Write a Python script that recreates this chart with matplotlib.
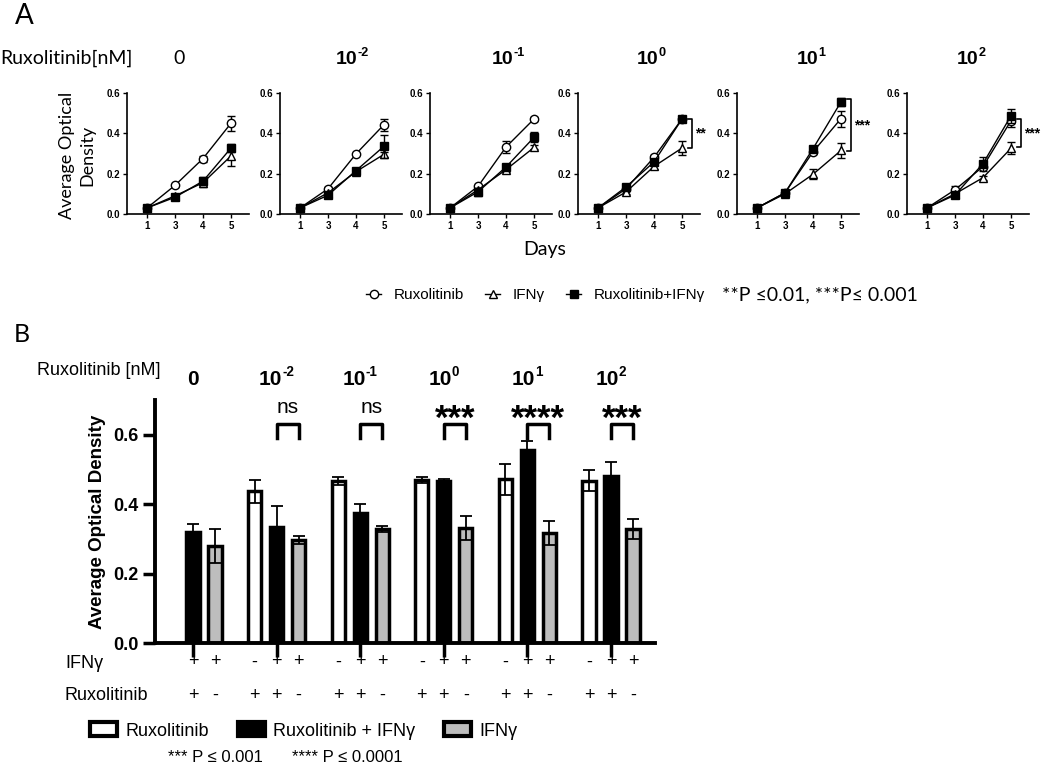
import numpy as np
import matplotlib
matplotlib.use('Agg')
import matplotlib.pyplot as plt
from matplotlib.lines import Line2D
from matplotlib.patches import Patch
from matplotlib.font_manager import FontProperties
import matplotlib.transforms as mtransforms

# ---- data: panel A (growth curves) ----
days = [1, 3, 4, 5]
conc_exp = [None, '-2', '-1', '0', '1', '2']   # Ruxolitinib concentration = 10^exp nM (None -> 0)

rux_a = [[0.03, 0.142, 0.275, 0.45],
         [0.03, 0.125, 0.298, 0.443],
         [0.03, 0.137, 0.332, 0.471],
         [0.03, 0.125, 0.281, 0.471],
         [0.03, 0.105, 0.308, 0.473],
         [0.03, 0.120, 0.235, 0.463]]
rux_a_err = [[0.005, 0.008, 0.015, 0.038],
             [0.005, 0.008, 0.006, 0.03],
             [0.005, 0.008, 0.03, 0.01],
             [0.005, 0.008, 0.01, 0.008],
             [0.005, 0.006, 0.01, 0.04],
             [0.005, 0.02, 0.01, 0.03]]
ifn_a = [[0.03, 0.09, 0.155, 0.288],
         [0.03, 0.105, 0.21, 0.296],
         [0.03, 0.12, 0.22, 0.33],
         [0.03, 0.109, 0.236, 0.327],
         [0.03, 0.10, 0.197, 0.315],
         [0.03, 0.10, 0.18, 0.326]]
ifn_a_err = [[0.005, 0.006, 0.02, 0.05],
             [0.005, 0.006, 0.01, 0.012],
             [0.005, 0.01, 0.01, 0.01],
             [0.005, 0.01, 0.015, 0.035],
             [0.005, 0.006, 0.025, 0.035],
             [0.005, 0.01, 0.01, 0.03]]
combo_a = [[0.03, 0.083, 0.163, 0.327],
           [0.03, 0.093, 0.215, 0.336],
           [0.03, 0.11, 0.233, 0.38],
           [0.03, 0.134, 0.258, 0.471],
           [0.03, 0.105, 0.324, 0.556],
           [0.03, 0.094, 0.25, 0.487]]
combo_a_err = [[0.005, 0.006, 0.02, 0.02],
               [0.005, 0.006, 0.008, 0.057],
               [0.005, 0.02, 0.01, 0.025],
               [0.005, 0.006, 0.01, 0.006],
               [0.005, 0.006, 0.015, 0.02],
               [0.005, 0.008, 0.035, 0.035]]
sig_a = {3: ('**', 0.471, 0.327), 4: ('***', 0.572, 0.31), 5: ('***', 0.471, 0.33)}

# ---- data: panel B (day 5 bars) ----
rux_b = [np.nan, 0.437, 0.467, 0.469, 0.471, 0.467]
rux_b_err = [np.nan, 0.033, 0.011, 0.009, 0.044, 0.030]
combo_b = [0.320, 0.335, 0.375, 0.467, 0.557, 0.481]
combo_b_err = [0.022, 0.059, 0.026, 0.005, 0.025, 0.040]
ifn_b = [0.279, 0.296, 0.329, 0.332, 0.317, 0.329]
ifn_b_err = [0.049, 0.011, 0.008, 0.034, 0.035, 0.028]
sig_b = ['', 'ns', 'ns', '***', '****', '***']
ifn_signs = [['', '+', '+']] + [['-', '+', '+']] * 5
rux_signs = [['', '+', '-']] + [['+', '+', '-']] * 5

# ---- fonts ----
plt.rcParams['font.family'] = ['Liberation Sans', 'DejaVu Sans']
calib = ['Lato', 'DejaVu Sans']

W, H = 1050, 768
def fx(px): return px / W
def fy(py): return 1 - py / H
def box(l, t, r, b): return [l / W, 1 - b / H, (r - l) / W, (b - t) / H]

fig = plt.figure(figsize=(10.5, 7.68), dpi=100)

# bold glyph widths (em) for Arial/Liberation bold
gw = {'0': 0.556, '1': 0.556, '2': 0.556, '-': 0.333}

def conc_label(x, y, exp, size, trans):
    # draws "0" or "10" with a raised exponent, centred on x
    if exp is None:
        fig.text(x, y, '0', fontsize=size, fontweight='bold', ha='center', va='baseline',
                 transform=trans)
        return
    es = 0.65 * size
    wb = 1.112 * size
    we = sum(gw[c] for c in exp) * es
    dx = -(wb + we) / 2
    t1 = mtransforms.offset_copy(trans, fig=fig, x=dx, y=0, units='points')
    t2 = mtransforms.offset_copy(trans, fig=fig, x=dx + wb, y=0.42 * size, units='points')
    fig.text(x, y, '10', fontsize=size, fontweight='bold', ha='left', va='baseline', transform=t1)
    fig.text(x, y, exp, fontsize=es, fontweight='bold', ha='left', va='baseline', transform=t2)

# ================= Panel A =================
a_pos0 = [147, 300, 450, 598, 757, 927]
a_lbl_x = [179, 352, 508, 651, 811, 971]
step = 28
for i in range(6):
    left = a_pos0[i] - 0.7 * step
    ax = fig.add_axes(box(left, 93, left + 4.35 * step, 214))
    x = np.arange(4)
    ax.errorbar(x, rux_a[i], yerr=rux_a_err[i], color='k', marker='o', mfc='white',
                ms=6, lw=1, elinewidth=1, capsize=3, zorder=3)
    ax.errorbar(x, ifn_a[i], yerr=ifn_a_err[i], color='k', marker='^', mfc='white',
                ms=6, lw=1, elinewidth=1, capsize=3, zorder=4)
    ax.errorbar(x, combo_a[i], yerr=combo_a_err[i], color='k', marker='s', mfc='k',
                ms=5.5, lw=1, elinewidth=1, capsize=3, zorder=5)
    ax.set_xlim(-0.7, 3.65)
    ax.set_ylim(0, 0.6)
    ax.set_xticks(x)
    ax.set_xticklabels([str(d) for d in days], fontsize=7, fontweight='bold')
    ax.set_yticks([0, 0.2, 0.4, 0.6])
    ax.set_yticklabels(['0.0', '0.2', '0.4', '0.6'], fontsize=7, fontweight='bold')
    ax.tick_params(length=3, width=1, pad=2)
    for s in ['top', 'right']:
        ax.spines[s].set_visible(False)
    for s in ['left', 'bottom']:
        ax.spines[s].set_linewidth(1.2)
    if i in sig_a:
        txt, y1, y2 = sig_a[i]
        bx = 3.35
        ax.plot([bx - 0.15, bx, bx, bx - 0.15], [y1, y1, y2, y2], color='k', lw=1.2, clip_on=False)
        ax.text(bx + 0.1, (y1 + y2) / 2, txt, fontsize=10, fontweight='bold',
                ha='left', va='center', clip_on=False)
    if conc_exp[i] is None:
        fig.text(fx(a_lbl_x[i]), fy(64), '0', fontsize=14, family=calib, ha='center', va='baseline')
    else:
        conc_label(fx(a_lbl_x[i]), fy(64), conc_exp[i], 14, fig.transFigure)

fig.text(fx(15), fy(24), 'A', fontsize=20, family=calib, va='baseline')
fig.text(fx(0), fy(58), 'Ruxolitinib[nM]', fontsize=14, family=calib, va='center')
fig.text(fx(77), fy(155), 'Average Optical\nDensity', fontsize=13, family=calib,
         rotation=90, ha='center', va='center', linespacing=1.3, multialignment='center')
fig.text(fx(545), fy(250), 'Days', fontsize=14, family=calib, ha='center', va='center')

hA = [Line2D([], [], color='k', marker='o', mfc='white', ms=6, lw=1),
      Line2D([], [], color='k', marker='^', mfc='white', ms=6, lw=1),
      Line2D([], [], color='k', marker='s', mfc='k', ms=5.5, lw=1)]
fig.legend(hA, ['Ruxolitinib', 'IFNγ', 'Ruxolitinib+IFNγ'], loc='center left',
           bbox_to_anchor=(fx(366), fy(295)), ncol=3, frameon=False, borderpad=0,
           borderaxespad=0, handlelength=1.0, handletextpad=0.8, columnspacing=1.4,
           prop=FontProperties(family=['Liberation Sans', 'DejaVu Sans'], size=11))
fig.text(fx(722), fy(295), '**P ≤0.01, ***P≤ 0.001', fontsize=14, family=calib, va='center')

# ================= Panel B =================
axB = fig.add_axes(box(155, 400, 655, 643))
gx = np.arange(6) * 3.8
grey = '#bdbdbd'
bw = 0.6
m = ~np.isnan(rux_b)
axB.bar((gx + 0)[m], np.array(rux_b)[m], width=bw, color='white', edgecolor='k', lw=2.5, zorder=2)
axB.bar(gx + 1, combo_b, width=bw, color='k', edgecolor='k', lw=2.5, zorder=2)
axB.bar(gx + 2, ifn_b, width=bw, color=grey, edgecolor='k', lw=2.5, zorder=2)
axB.errorbar((gx + 0)[m], np.array(rux_b)[m], yerr=np.array(rux_b_err)[m], fmt='none',
             ecolor='k', elinewidth=1.3, capsize=4, capthick=1.3, zorder=3)
axB.errorbar(gx + 1, combo_b, yerr=combo_b_err, fmt='none', ecolor='k',
             elinewidth=1.3, capsize=4, capthick=1.3, zorder=3)
axB.errorbar(gx + 2, ifn_b, yerr=ifn_b_err, fmt='none', ecolor='k',
             elinewidth=1.3, capsize=4, capthick=1.3, zorder=3)
axB.set_xlim(-0.73, 22.0)
axB.set_ylim(0, 0.7)
axB.set_yticks([0, 0.2, 0.4, 0.6])
axB.set_yticklabels(['0.0', '0.2', '0.4', '0.6'], fontsize=13, fontweight='bold')
axB.set_xticks(gx + 1)
axB.set_xticklabels([])
axB.tick_params(axis='y', length=9, width=2.5, pad=3)
axB.tick_params(axis='x', length=10, width=2.5)
for s in ['top', 'right']:
    axB.spines[s].set_visible(False)
for s in ['left', 'bottom']:
    axB.spines[s].set_linewidth(2.8)

for g in range(6):
    if sig_b[g]:
        x1, x2 = gx[g] + 1, gx[g] + 2
        axB.plot([x1, x1, x2, x2], [0.591, 0.632, 0.632, 0.591], color='k', lw=2.5, clip_on=False)
        if sig_b[g] == 'ns':
            axB.text(gx[g] + 1.5, 0.663, 'ns', fontsize=15, ha='center', va='baseline')
        else:
            axB.text(gx[g] + 1.5, 0.618, sig_b[g], fontsize=25, fontweight='bold',
                     ha='center', va='baseline')

tr = mtransforms.blended_transform_factory(axB.transData, fig.transFigure)
for g in range(6):
    conc_label(gx[g] + 1, fy(385), conc_exp[g], 15, tr)
    for j in range(3):
        axB.text(gx[g] + j, fy(662), ifn_signs[g][j], fontsize=13, ha='center',
                 va='center', transform=tr)
        axB.text(gx[g] + j, fy(695), rux_signs[g][j], fontsize=13, ha='center',
                 va='center', transform=tr)

fig.text(fx(14), fy(342), 'B', fontsize=18, family=calib, va='baseline')
fig.text(fx(37), fy(375), 'Ruxolitinib [nM]', fontsize=13, va='baseline')
fig.text(fx(65), fy(663), 'IFNγ', fontsize=13, va='center')
fig.text(fx(65), fy(695), 'Ruxolitinib', fontsize=13, va='center')
fig.text(fx(98), fy(522), 'Average Optical Density', fontsize=13.5, fontweight='bold',
         rotation=90, ha='center', va='center')

hB = [Patch(facecolor='white', edgecolor='k', lw=3),
      Patch(facecolor='k', edgecolor='k', lw=3),
      Patch(facecolor=grey, edgecolor='k', lw=3)]
fig.legend(hB, ['Ruxolitinib', 'Ruxolitinib + IFNγ', 'IFNγ'], loc='center left',
           bbox_to_anchor=(fx(90), fy(731)), ncol=3, frameon=False, borderpad=0,
           borderaxespad=0, handlelength=1.5, handleheight=0.8, handletextpad=0.45,
           columnspacing=1.6, prop=FontProperties(family=['Liberation Sans', 'DejaVu Sans'], size=13))
fig.text(fx(168), fy(757), '*** P ≤ 0.001', fontsize=12, va='center')
fig.text(fx(292), fy(757), '**** P ≤ 0.0001', fontsize=12, va='center')

fig.savefig('out.png', dpi=100)
